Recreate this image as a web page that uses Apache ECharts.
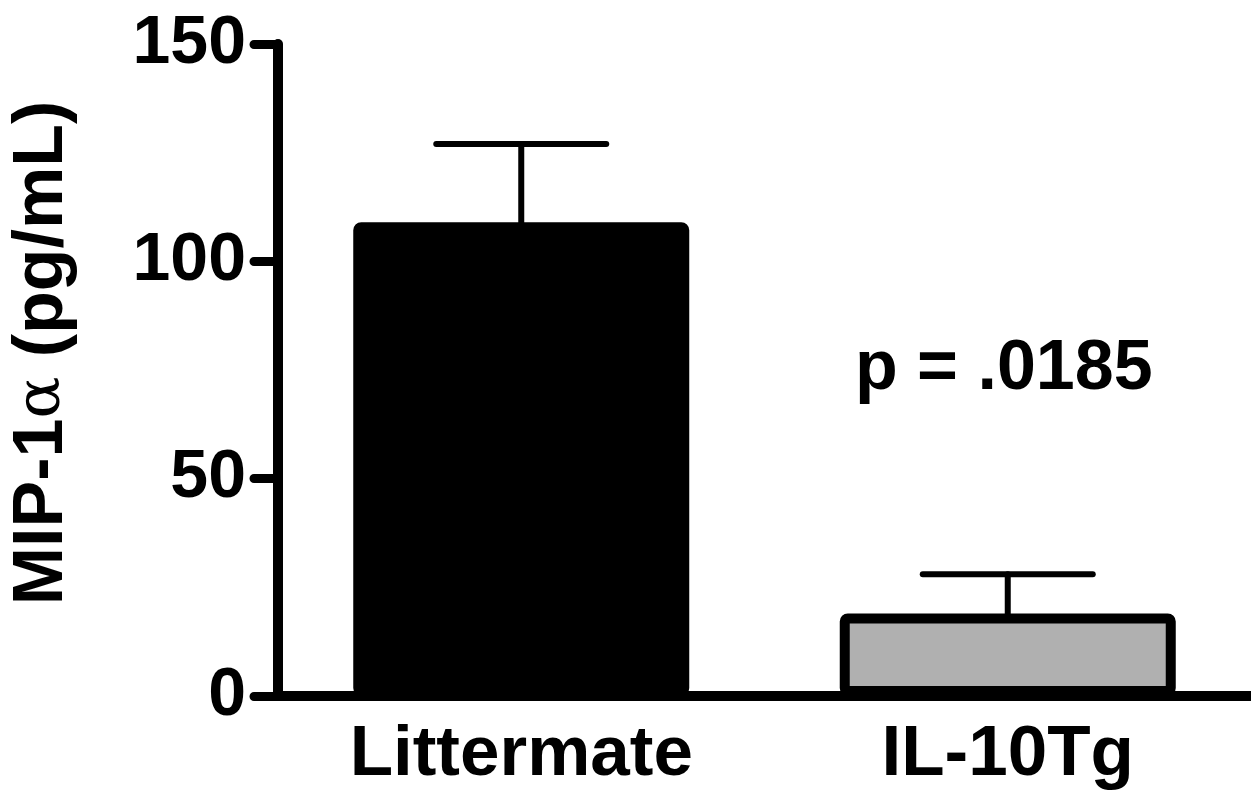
<!DOCTYPE html>
<html>
<head>
<meta charset="utf-8">
<script src="https://cdn.jsdelivr.net/npm/echarts@6/dist/echarts.min.js"></script>
<style>
  html, body { margin: 0; padding: 0; background: #fff; }
  #chart { width: 1251px; height: 800px; }
</style>
</head>
<body>
<div id="chart"></div>
<script>
// Groups and MIP-1α measurements (mean ± SEM, pg/mL)
const groups = ['Littermate', 'IL-10Tg'];
const means = [109, 19];
const sems = [18, 9];
const barColors = ['#000000', '#b0b0b0'];
const yTicks = { min: 0, max: 150, interval: 50 };
const pLabel = 'p = .0185';
const pLabelValue = 75;

const FONT = '"Liberation Sans", Arial, Helvetica, sans-serif';

const chart = echarts.init(document.getElementById('chart'));

const errData = groups.map((g, i) => [i, means[i], means[i] + sems[i]]);

chart.setOption({
  backgroundColor: '#ffffff',
  animation: false,
  grid: { left: 272, right: 0, top: 44, bottom: 104, containLabel: false },
  xAxis: {
    type: 'category',
    data: groups,
    axisLine: { lineStyle: { color: '#000', width: 10, cap: 'round' } },
    axisTick: { show: false },
    axisLabel: {
      color: '#000', fontFamily: FONT, fontWeight: 'bold', fontSize: 71, margin: 24
    }
  },
  yAxis: {
    type: 'value',
    min: yTicks.min, max: yTicks.max, interval: yTicks.interval,
    name: '{a|MIP-1}{b|α}{a| (pg/mL)}',
    nameLocation: 'middle',
    nameGap: 200,
    nameTextStyle: {
      padding: [0, 0, 0, 34],
      rich: {
        a: { fontFamily: FONT, fontWeight: 'bold', fontSize: 70, color: '#000' },
        b: { fontFamily: '"DejaVu Serif", serif', fontWeight: 'normal', fontSize: 62, color: '#000' }
      }
    },
    splitLine: { show: false },
    axisLine: { show: true, lineStyle: { color: '#000', width: 10, cap: 'round' } },
    axisTick: { show: true, length: 24, lineStyle: { color: '#000', width: 9, cap: 'round' } },
    axisLabel: {
      color: '#000', fontFamily: FONT, fontWeight: 'bold', fontSize: 68, margin: 32
    }
  },
  series: [
    {
      type: 'bar',
      barWidth: 336,
      z: 2,
      data: means.map((v, i) => ({
        value: v,
        itemStyle: { color: barColors[i], borderColor: '#000', borderWidth: 10, borderRadius: 3 }
      }))
    },
    {
      type: 'custom',
      z: 1,
      data: errData,
      renderItem: function (params, api) {
        const base = api.coord([api.value(0), api.value(1)]);
        const top = api.coord([api.value(0), api.value(2)]);
        const half = 85;
        const style = { stroke: '#000', lineWidth: 6, lineCap: 'round' };
        return {
          type: 'group',
          children: [
            { type: 'line', shape: { x1: base[0], y1: base[1], x2: top[0], y2: top[1] }, style: style },
            { type: 'line', shape: { x1: top[0] - half, y1: top[1], x2: top[0] + half, y2: top[1] }, style: style }
          ]
        };
      }
    }
  ]
});

// Significance annotation above the IL-10Tg group
const pPos = chart.convertToPixel({ gridIndex: 0 }, [1, pLabelValue]);
chart.setOption({
  graphic: [{
    type: 'text',
    x: pPos[0] - 4, y: pPos[1],
    style: {
      text: pLabel,
      fontFamily: FONT, fontWeight: 'bold', fontSize: 70, fill: '#000',
      align: 'center', verticalAlign: 'middle'
    }
  }]
});
</script>
</body>
</html>
